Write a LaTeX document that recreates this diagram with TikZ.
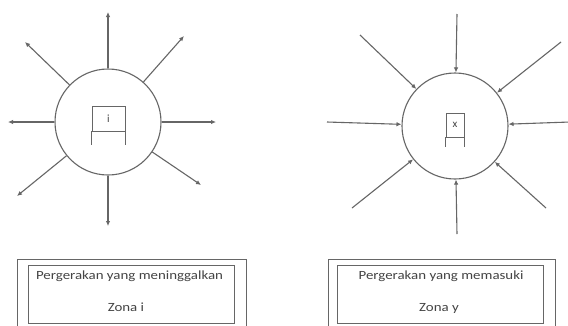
\documentclass[tikz,border=0pt]{standalone}
\usepackage{fontspec}
\setmainfont{Carlito}
\usetikzlibrary{arrows.meta}
\definecolor{ln}{HTML}{666666}
\definecolor{tx}{HTML}{444444}
\newcommand{\wide}[1]{\scalebox{1.19}[1]{#1}}
\begin{document}
\begin{tikzpicture}[x=1pt,y=-1pt,
  ln/.style={draw=ln,line width=1.1pt},
  arr/.style={ln,-{Latex[length=5pt,width=4.5pt]}},
  zone/.style={circle,draw=ln,line width=1.1pt,minimum size=106pt,inner sep=0pt},
  lbl/.style={text=tx,font=\fontsize{12.5}{14}\selectfont,inner sep=0pt,anchor=base},
  cellbox/.style={draw=ln,line width=0.8pt,inner sep=0pt},
  tbox/.style={draw=ln,line width=1pt,inner sep=0pt}]
\clip (0,0) rectangle (568,325);
\fill[white] (0,0) rectangle (568,325);
% left zone
\node[zone] (ci) at (108,122) {};
\coordinate (a1) at (108,12);
\coordinate (a2) at (184,36);
\coordinate (a3) at (216,122);
\coordinate (a4) at (201,185);
\coordinate (a5) at (108,226);
\coordinate (a6) at (17,196);
\coordinate (a7) at (8,122);
\coordinate (a8) at (25,42);
\foreach \p in {a1,a2,a3,a4,a5,a6,a7,a8} \draw[arr] (ci) -- (\p);
\node[cellbox,minimum width=33pt,minimum height=25pt] (ki) at (108.5,118.5) {};
\draw[ln,line width=0.8pt] (ki.south west) -- ++(0,14);
\draw[ln,line width=0.8pt] (ki.south east) -- ++(0,14);
\node[text=tx,inner sep=0pt,font=\fontsize{11}{12}\selectfont] (ti) at (ki) {i};
% right zone
\node[zone] (cr) at (455,126) {};
\coordinate (b1) at (457,14);
\coordinate (b2) at (561,42);
\coordinate (b3) at (570,122);
\coordinate (b4) at (546,208);
\coordinate (b5) at (457,234);
\coordinate (b6) at (352,208);
\coordinate (b7) at (327,122);
\coordinate (b8) at (360,35);
\foreach \p in {b1,b2,b3,b4,b5,b6,b7,b8} \draw[arr] (\p) -- (cr);
\node[cellbox,minimum width=18pt,minimum height=24pt] (kx) at (455,125) {};
\draw[ln,line width=0.8pt] (kx.south west) -- ++(0,10);
\draw[ln,line width=0.8pt] (kx.south east) -- ++(0,10);
\node[text=tx,inner sep=0pt,font=\fontsize{11}{12}\selectfont] (tx) at (kx) {x};
% bottom boxes
\draw[tbox] (17,340) |- (246,259.5) -- (246,340);
\node[tbox,minimum width=206pt,minimum height=58pt] (bl) at (131,294) {};
\node[lbl] (bl1) at (129.5,279) {\wide{Pergerakan yang meninggalkan}};
\node[lbl] (bl2) at (126,311) {\wide{Zona i}};
\draw[tbox] (328,340) |- (555,259.5) -- (555,340);
\node[tbox,minimum width=206pt,minimum height=58pt] (br) at (440,294) {};
\node[lbl] (br1) at (441,279) {\wide{Pergerakan yang memasuki}};
\node[lbl] (br2) at (439,311) {\wide{Zona y}};
\end{tikzpicture}
\end{document}
